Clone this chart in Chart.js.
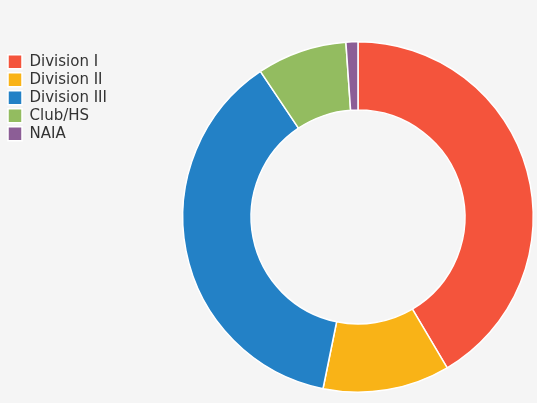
<!DOCTYPE html>
<html>
<head>
<meta charset="utf-8">
<script src="https://cdn.jsdelivr.net/npm/chart.js@4/dist/chart.umd.min.js"></script>
<style>
  html, body { margin: 0; padding: 0; background: #f5f5f5; }
  #wrap { width: 537px; height: 403px; }
</style>
</head>
<body>
<div id="wrap"><canvas id="chart"></canvas></div>
<script>
const categories = ["Division I", "Division II", "Division III", "Club/HS", "NAIA"];
const shares = [41.5, 11.7, 37.4, 8.3, 1.1];
const colors = ["#f4543c", "#f9b317", "#2381c6", "#93bc60", "#8c5e96"];

// widen the legend box so the doughnut sits further right
const legendWiden = {
  id: "legendWiden",
  beforeLayout(chart) {
    const l = chart.legend;
    if (l && !l._widened) {
      const fit = l.fit.bind(l);
      l.fit = function () { fit(); this.width += 65; };
      l._widened = true;
    }
  }
};

new Chart(document.getElementById("chart"), {
  type: "doughnut",
  data: {
    labels: categories,
    datasets: [{
      data: shares,
      backgroundColor: colors,
      borderColor: "#ffffff",
      borderWidth: 1.5
    }]
  },
  options: {
    responsive: true,
    maintainAspectRatio: false,
    animation: false,
    cutout: "61%",
    layout: { padding: { top: 38, bottom: 7, left: 5, right: 3 } },
    plugins: {
      tooltip: { enabled: false },
      legend: {
        position: "left",
        align: "start",
        title: { display: true, text: " ", font: { size: 1 }, padding: { top: 0, bottom: 12 } },
        labels: {
          boxWidth: 14,
          boxHeight: 14,
          padding: 3,
          color: "#333",
          font: { family: "DejaVu Sans", size: 15 }
        }
      }
    }
  },
  plugins: [legendWiden]
});
</script>
</body>
</html>
